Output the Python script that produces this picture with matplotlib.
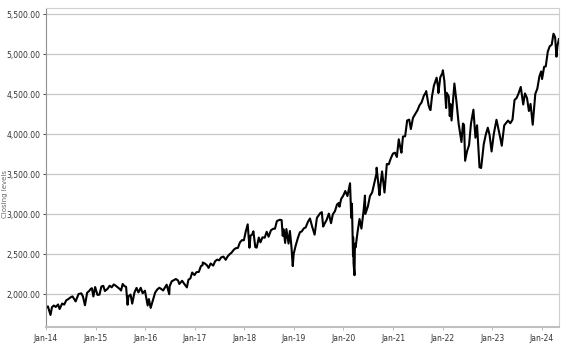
import matplotlib
matplotlib.use("Agg")
import matplotlib.pyplot as plt
import matplotlib.dates as mdates
from matplotlib.ticker import FuncFormatter
import pandas as pd

# closing levels (roughly twice a month, plus the big swings)
dates = [
    "2014-01-02", "2014-01-15", "2014-02-03", "2014-02-14", "2014-02-28", "2014-03-14", "2014-03-31",
    "2014-04-11", "2014-04-30", "2014-05-15", "2014-05-30", "2014-06-13", "2014-06-30", "2014-07-15",
    "2014-07-31", "2014-08-07", "2014-08-29", "2014-09-18", "2014-09-30", "2014-10-15", "2014-10-31",
    "2014-11-14", "2014-11-28", "2014-12-05", "2014-12-16", "2014-12-29", "2015-01-15", "2015-01-30",
    "2015-02-13", "2015-02-27", "2015-03-11", "2015-03-31", "2015-04-15", "2015-04-30", "2015-05-15",
    "2015-05-29", "2015-06-15", "2015-06-30", "2015-07-08", "2015-07-20", "2015-07-31", "2015-08-14",
    "2015-08-25", "2015-08-31", "2015-09-16", "2015-09-28", "2015-10-15", "2015-10-30", "2015-11-13",
    "2015-11-30", "2015-12-14", "2015-12-31", "2016-01-20", "2016-01-29", "2016-02-11", "2016-02-29",
    "2016-03-15", "2016-03-31", "2016-04-15", "2016-04-29", "2016-05-13", "2016-05-31", "2016-06-08",
    "2016-06-27", "2016-06-30", "2016-07-15", "2016-07-29", "2016-08-15", "2016-08-31", "2016-09-09",
    "2016-09-30", "2016-10-14", "2016-11-04", "2016-11-15", "2016-11-30", "2016-12-13", "2016-12-30",
    "2017-01-13", "2017-01-31", "2017-02-15", "2017-02-28", "2017-03-01", "2017-03-15", "2017-03-31",
    "2017-04-13", "2017-04-28", "2017-05-17", "2017-05-31", "2017-06-15", "2017-06-30", "2017-07-14",
    "2017-07-31", "2017-08-17", "2017-08-31", "2017-09-15", "2017-09-29", "2017-10-16", "2017-10-31",
    "2017-11-15", "2017-11-30", "2017-12-15", "2017-12-29", "2018-01-12", "2018-01-26", "2018-02-08",
    "2018-02-16", "2018-02-27", "2018-03-09", "2018-03-23", "2018-04-02", "2018-04-18", "2018-04-30",
    "2018-05-15", "2018-05-31", "2018-06-15", "2018-06-29", "2018-07-16", "2018-07-31", "2018-08-15",
    "2018-08-29", "2018-09-20", "2018-10-03", "2018-10-11", "2018-10-17", "2018-10-29", "2018-11-07",
    "2018-11-23", "2018-12-03", "2018-12-14", "2018-12-24", "2018-12-31", "2019-01-15", "2019-01-31",
    "2019-02-15", "2019-02-28", "2019-03-15", "2019-03-29", "2019-04-15", "2019-04-30", "2019-05-15",
    "2019-06-03", "2019-06-20", "2019-07-15", "2019-07-26", "2019-08-05", "2019-08-15", "2019-08-30",
    "2019-09-16", "2019-10-02", "2019-10-15", "2019-10-31", "2019-11-15", "2019-11-29", "2019-12-03",
    "2019-12-16", "2019-12-31", "2020-01-15", "2020-01-31", "2020-02-19", "2020-02-28", "2020-03-04",
    "2020-03-12", "2020-03-13", "2020-03-16", "2020-03-23", "2020-03-26", "2020-03-31", "2020-04-15",
    "2020-04-29", "2020-05-13", "2020-05-29", "2020-06-08", "2020-06-11", "2020-06-30", "2020-07-15",
    "2020-07-31", "2020-08-14", "2020-08-31", "2020-09-02", "2020-09-23", "2020-09-30", "2020-10-12",
    "2020-10-30", "2020-11-16", "2020-11-30", "2020-12-15", "2020-12-31", "2021-01-15", "2021-01-29",
    "2021-02-12", "2021-02-26", "2021-03-04", "2021-03-15", "2021-03-31", "2021-04-15", "2021-04-30",
    "2021-05-12", "2021-05-28", "2021-06-15", "2021-06-30", "2021-07-15", "2021-07-30", "2021-08-16",
    "2021-08-31", "2021-09-02", "2021-09-20", "2021-09-30", "2021-10-04", "2021-10-15", "2021-10-29",
    "2021-11-18", "2021-11-30", "2021-12-01", "2021-12-15", "2021-12-31", "2022-01-03", "2022-01-14",
    "2022-01-27", "2022-01-31", "2022-02-15", "2022-02-23", "2022-02-28", "2022-03-08", "2022-03-16",
    "2022-03-29", "2022-04-14", "2022-04-29", "2022-05-20", "2022-05-31", "2022-06-08", "2022-06-16",
    "2022-06-30", "2022-07-15", "2022-07-29", "2022-08-16", "2022-08-31", "2022-09-12", "2022-09-30",
    "2022-10-12", "2022-10-31", "2022-11-15", "2022-11-30", "2022-12-13", "2022-12-28", "2023-01-13",
    "2023-02-02", "2023-02-28", "2023-03-13", "2023-03-31", "2023-04-14", "2023-04-28", "2023-05-15",
    "2023-05-31", "2023-06-15", "2023-06-30", "2023-07-14", "2023-07-31", "2023-08-18", "2023-08-31",
    "2023-09-15", "2023-09-29", "2023-10-11", "2023-10-27", "2023-11-15", "2023-11-30", "2023-12-15",
    "2023-12-28", "2024-01-04", "2024-01-19", "2024-01-31", "2024-02-15", "2024-02-29", "2024-03-15",
    "2024-03-28", "2024-04-09", "2024-04-19", "2024-04-26", "2024-05-07",
]
closes = [
    1831, 1848, 1741, 1838, 1859, 1841, 1872,
    1815, 1884, 1870, 1924, 1937, 1960, 1973,
    1931, 1910, 2003, 2011, 1972, 1862, 2018,
    2039, 2068, 2075, 1972, 2090, 1992, 1995,
    2096, 2105, 2040, 2068, 2106, 2086, 2122,
    2107, 2084, 2063, 2046, 2128, 2104, 2092,
    1868, 1972, 1996, 1882, 2023, 2079, 2023,
    2080, 2012, 2044, 1859, 1940, 1829, 1932,
    2020, 2060, 2081, 2065, 2047, 2097, 2119,
    2000, 2099, 2161, 2174, 2190, 2171, 2128,
    2168, 2133, 2085, 2180, 2199, 2271, 2239,
    2275, 2279, 2350, 2364, 2396, 2385, 2363,
    2329, 2384, 2357, 2412, 2432, 2423, 2459,
    2470, 2430, 2472, 2500, 2519, 2557, 2575,
    2579, 2648, 2676, 2674, 2786, 2873, 2581,
    2732, 2744, 2786, 2588, 2582, 2708, 2648,
    2711, 2705, 2780, 2718, 2798, 2816, 2819,
    2914, 2930, 2925, 2729, 2810, 2641, 2814,
    2633, 2790, 2600, 2351, 2507, 2610, 2704,
    2775, 2784, 2822, 2834, 2905, 2946, 2850,
    2744, 2954, 3014, 3025, 2845, 2880, 2926,
    3007, 2887, 2997, 3038, 3120, 3141, 3093,
    3191, 3231, 3289, 3226, 3386, 2954, 3130,
    2481, 2711, 2386, 2237, 2630, 2585, 2783,
    2940, 2820, 3044, 3232, 3002, 3100, 3227,
    3271, 3373, 3500, 3580, 3237, 3363, 3534,
    3270, 3627, 3622, 3695, 3756, 3768, 3714,
    3935, 3811, 3768, 3969, 3973, 4170, 4181,
    4063, 4204, 4255, 4298, 4360, 4395, 4480,
    4523, 4537, 4358, 4307, 4300, 4471, 4605,
    4705, 4567, 4513, 4709, 4766, 4797, 4662,
    4326, 4516, 4471, 4225, 4374, 4170, 4358,
    4632, 4392, 4132, 3901, 4132, 4116, 3667,
    3785, 3863, 4130, 4305, 3955, 4110, 3586,
    3577, 3872, 3992, 4080, 3990, 3783, 3999,
    4179, 3970, 3855, 4109, 4138, 4169, 4136,
    4180, 4426, 4450, 4505, 4589, 4370, 4508,
    4450, 4288, 4377, 4117, 4502, 4568, 4719,
    4783, 4688, 4840, 4846, 5030, 5096, 5117,
    5254, 5210, 4967, 5100, 5187,
]

y_ticks = [2000, 2500, 3000, 3500, 4000, 4500, 5000, 5500]

df = pd.DataFrame({"date": pd.to_datetime(dates), "close": closes})

fig = plt.figure(figsize=(5.68, 3.62), dpi=100)
ax = fig.add_axes([0.081, 0.097, 0.903, 0.880])

ax.plot(df["date"], df["close"], color="black", lw=1.5)

ax.set_xlim(pd.Timestamp("2014-01-01"), df["date"].iloc[-1])
ax.set_ylim(1592, 5571)
ax.set_yticks(y_ticks)
ax.yaxis.set_major_formatter(FuncFormatter(lambda v, p: f"{v:,.2f}"))
ax.xaxis.set_major_locator(mdates.YearLocator())
ax.xaxis.set_major_formatter(mdates.DateFormatter("%b-%y"))

ax.grid(axis="y", color="#c8c8c8", lw=0.9)
ax.set_axisbelow(True)
for side in ["top", "right"]:
    ax.spines[side].set_color("#d0d0d0")
ax.spines["left"].set_color("#909090")
ax.spines["bottom"].set_color("#c0c0c0")
ax.spines["bottom"].set_linewidth(1.5)
ax.tick_params(axis="both", labelsize=5.5, colors="#333333", length=2, width=0.6, pad=2)
ax.tick_params(axis="x", colors="#b0b0b0", labelcolor="#333333", pad=3)

fig.text(0.009, 0.463, "Closing levels", rotation=90, fontsize=5, color="#666666",
         ha="center", va="center")

fig.savefig("out.png", dpi=100)
